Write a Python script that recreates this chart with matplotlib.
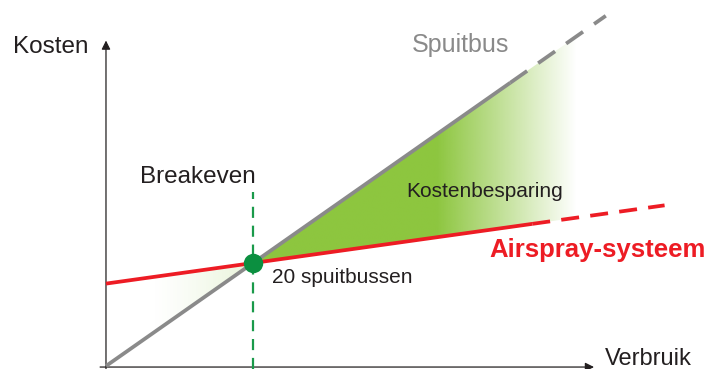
import numpy as np
import matplotlib
matplotlib.use("Agg")
import matplotlib.pyplot as plt
from matplotlib.patches import Polygon

plt.rcParams['font.family'] = ['Liberation Sans', 'DejaVu Sans']

# Verbruik (aantal spuitbussen) vs kosten
spuitbus_x = [0, 55, 68]          # solid up to 55, dashed after
spuitbus_kosten = [0, 55, 68]
airspray_x = [0, 58, 76]          # solid up to 58, dashed after
airspray_kosten = [16, 27.6, 31.2]
breakeven_x = 20
breakeven_kosten = 20
besparing_eind = 64               # where green area fades out
besparing_vol = 45                # green full strength up to here
links_start = 6                   # faint area left of breakeven

GRAY = '#8a8a8a'
RED = '#ed1c24'
GREEN = '#8dc63f'
DOT = '#0b8f40'
TXT = '#231f20'

fig = plt.figure(figsize=(7.05, 3.69), dpi=100)
ax = fig.add_axes([0, 0, 1, 1])
ax.set_xlim(-14.42, 81.5)
ax.set_ylim(-0.58, 71.07)
ax.axis('off')


def line_at(xs, ys, x):
    return np.interp(x, xs, ys)


# green gradient, right of breakeven
xr = np.linspace(breakeven_x, besparing_eind, 80)
poly_r = list(zip(xr, line_at(spuitbus_x, spuitbus_kosten, xr))) + \
    list(zip(xr[::-1], line_at(airspray_x, airspray_kosten, xr[::-1])))
patch_r = Polygon(poly_r, closed=True, facecolor='none', edgecolor='none')
ax.add_patch(patch_r)
gx = np.linspace(breakeven_x, besparing_eind, 300)
alpha = np.clip((besparing_eind - gx) / (besparing_eind - besparing_vol), 0, 1)
img = np.zeros((2, len(gx), 4))
img[..., :3] = matplotlib.colors.to_rgb(GREEN)
img[..., 3] = alpha
im = ax.imshow(img, extent=[breakeven_x, besparing_eind, 0, 70], aspect='auto',
               origin='lower', interpolation='bilinear', zorder=1)
im.set_clip_path(patch_r)

# faint gradient, left of breakeven
xl = np.linspace(links_start, breakeven_x, 40)
poly_l = list(zip(xl, line_at(airspray_x, airspray_kosten, xl))) + \
    list(zip(xl[::-1], line_at(spuitbus_x, spuitbus_kosten, xl[::-1])))
patch_l = Polygon(poly_l, closed=True, facecolor='none', edgecolor='none')
ax.add_patch(patch_l)
gl = np.linspace(links_start, breakeven_x, 200)
img2 = np.zeros((2, len(gl), 4))
img2[..., :3] = matplotlib.colors.to_rgb(GREEN)
img2[..., 3] = 0.2 * ((gl - links_start) / (breakeven_x - links_start)) ** 1.3
im2 = ax.imshow(img2, extent=[links_start, breakeven_x, 0, 70], aspect='auto',
                origin='lower', interpolation='bilinear', zorder=1)
im2.set_clip_path(patch_l)

# axes with arrows
ax.annotate('', xy=(0, 63.2), xytext=(0, -0.6),
            arrowprops=dict(arrowstyle='-|>', color=TXT, lw=0.9, mutation_scale=13,
                            shrinkA=0, shrinkB=0), zorder=2)
ax.annotate('', xy=(66.4, -0.2), xytext=(-0.8, -0.2),
            arrowprops=dict(arrowstyle='-|>', color=TXT, lw=0.9, mutation_scale=13,
                            shrinkA=0, shrinkB=0), zorder=2)

# breakeven vertical
ax.plot([breakeven_x, breakeven_x], [-0.6, 33.8], color='#1a9a4a', lw=1.6,
        dashes=(5, 3.5), zorder=2)

# spuitbus line
ax.plot(spuitbus_x[:2], spuitbus_kosten[:2], color=GRAY, lw=2.7,
        solid_capstyle='butt', zorder=3)
ax.plot(spuitbus_x[1:], spuitbus_kosten[1:], color=GRAY, lw=2.7,
        dashes=(5.5, 3.6), zorder=3)

# airspray line
ax.plot(airspray_x[:2], airspray_kosten[:2], color=RED, lw=2.7,
        solid_capstyle='butt', zorder=4)
ax.plot(airspray_x[1:], airspray_kosten[1:], color=RED, lw=2.7,
        dashes=(4.8, 3.0), zorder=4)

ax.plot(breakeven_x, breakeven_kosten, 'o', color=DOT, ms=14, mec='none', zorder=5)

# labels
ax.text(-12.7, 60.8, 'Kosten', fontsize=17.5, color=TXT, va='baseline', ha='left')
ax.text(67.9, 0.25, 'Verbruik', fontsize=17, color=TXT, va='baseline', ha='left')
ax.text(4.63, 35.5, 'Breakeven', fontsize=17.5, color=TXT, va='baseline', ha='left')
ax.text(41.6, 61.0, 'Spuitbus', fontsize=18, color=GRAY, va='baseline', ha='left')
ax.text(40.9, 32.9, 'Kostenbesparing', fontsize=15, color=TXT, va='baseline', ha='left')
ax.text(52.2, 21.2, 'Airspray-systeem', fontsize=18.5, color=RED, fontweight='bold',
        va='baseline', ha='left')
ax.text(22.6, 16.05, '20 spuitbussen', fontsize=15, color=TXT, va='baseline', ha='left')

fig.savefig('out.png', dpi=100)
